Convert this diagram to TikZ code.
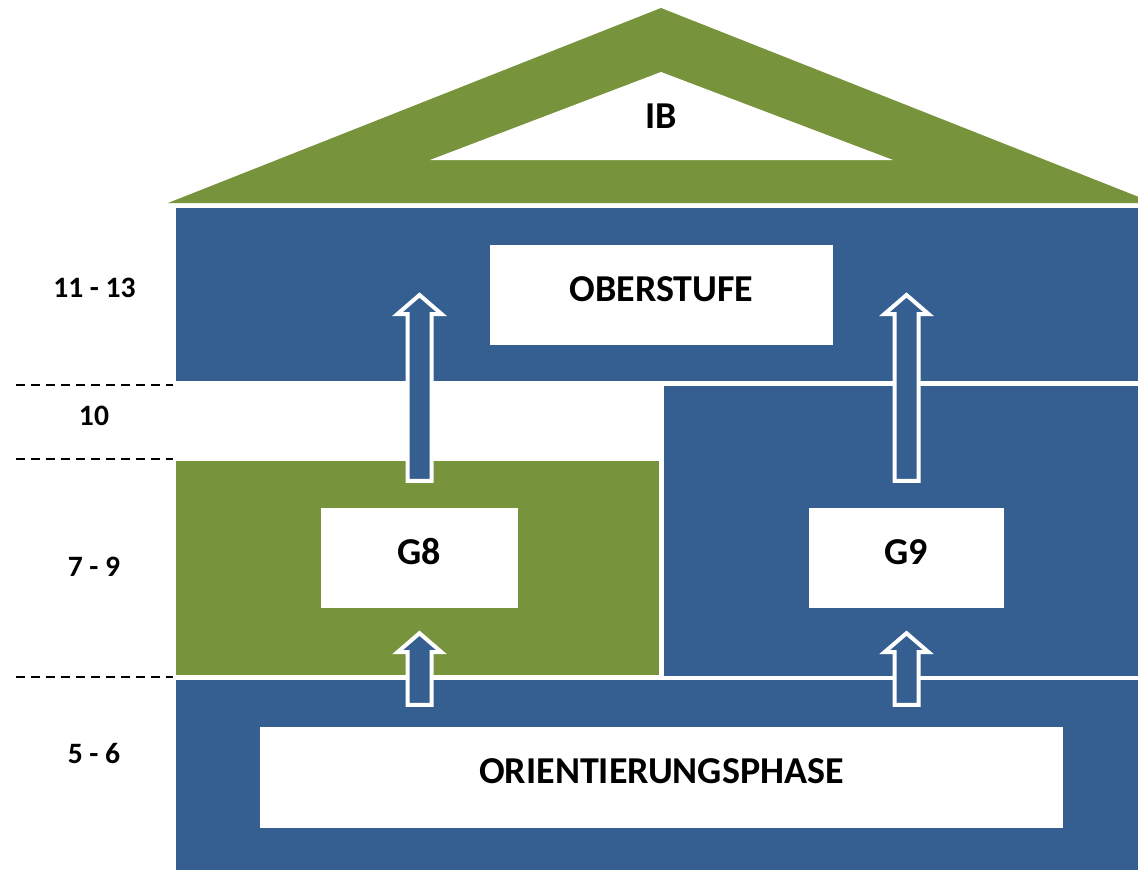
\documentclass[tikz,border=0pt]{standalone}
\usepackage{fontspec}
\setmainfont{Carlito}
\usetikzlibrary{calc}
\definecolor{houseblue}{RGB}{54,95,145}
\definecolor{housegreen}{RGB}{119,147,60}

\newcommand{\blockarr}[2]{%
  \draw[arrowS] ($(#1)+(-12,0)$) -- ($(#2)+(-12,19)$) -- ($(#2)+(-22,19)$) -- (#2)
    -- ($(#2)+(22,19)$) -- ($(#2)+(12,19)$) -- ($(#1)+(12,0)$) -- cycle;}

\begin{document}
\begin{tikzpicture}
  [x=1pt,y=-1pt,
   box/.style={fill=white,inner sep=0pt,font=\fontsize{38}{40}\selectfont\bfseries,
               text height=24pt,text depth=12pt},
   yearL/.style={inner sep=0pt,font=\fontsize{29.6}{32}\selectfont\bfseries,
               text height=19pt,text depth=0pt},
   arrowS/.style={fill=houseblue,draw=white,line width=4pt,line join=miter}]

  \useasboundingbox (0,0) rectangle (1138,870);
  \clip (0,0) rectangle (1138,870);

  % roof
  \fill[housegreen] (168,203) -- (661,8) -- (1154,203) -- cycle;
  \fill[white] (430,160) -- (661,72) -- (893,160) -- cycle;
  \node[box,fill=none] (ib) at (661,122) {IB};

  % building
  \fill[houseblue]  (176,208) rectangle (1138,381);
  \fill[houseblue]  (664,386) rectangle (1138,676);
  \fill[housegreen] (176,461) rectangle (659,675);
  \fill[houseblue]  (176,680) rectangle (1138,870);

  \node[box,minimum width=343pt,minimum height=100pt] (ober)   at (661.5,295)   {OBERSTUFE};
  \node[box,minimum width=197pt,minimum height=100pt] (g8)     at (419.5,558)   {G8};
  \node[box,minimum width=195pt,minimum height=100pt] (g9)     at (906.5,558)   {G9};
  \node[box,minimum width=803pt,minimum height=101pt] (orient) at (661.5,777.5) {ORIENTIERUNGSPHASE};

  % arrows
  \coordinate (a1s) at ($(orient.north -| g8)+(0,-22)$);
  \coordinate (a1t) at ($(g8.south)+(0,25)$);
  \coordinate (a2s) at ($(orient.north -| g9)+(0,-22)$);
  \coordinate (a2t) at ($(g9.south)+(0,25)$);
  \coordinate (a3s) at ($(g8.north)+(0,-27)$);
  \coordinate (a3t) at (g8 |- ober);
  \coordinate (a4s) at ($(g9.north)+(0,-27)$);
  \coordinate (a4t) at (g9 |- ober);

  \blockarr{a1s}{a1t}
  \blockarr{a2s}{a2t}
  \blockarr{a3s}{a3t}
  \blockarr{a4s}{a4t}

  % years
  \foreach \y in {385,459,677}
    \draw[line width=2pt,dash pattern=on 9pt off 6pt] (16,\y) -- (173,\y);

  \node[yearL] (y1) at (94.5,287.5) {11 - 13};
  \node[yearL] (y2) at (94,416)     {10};
  \node[yearL] (y3) at (94,567)     {7 - 9};
  \node[yearL] (y4) at (94,754)     {5 - 6};
\end{tikzpicture}
\end{document}
